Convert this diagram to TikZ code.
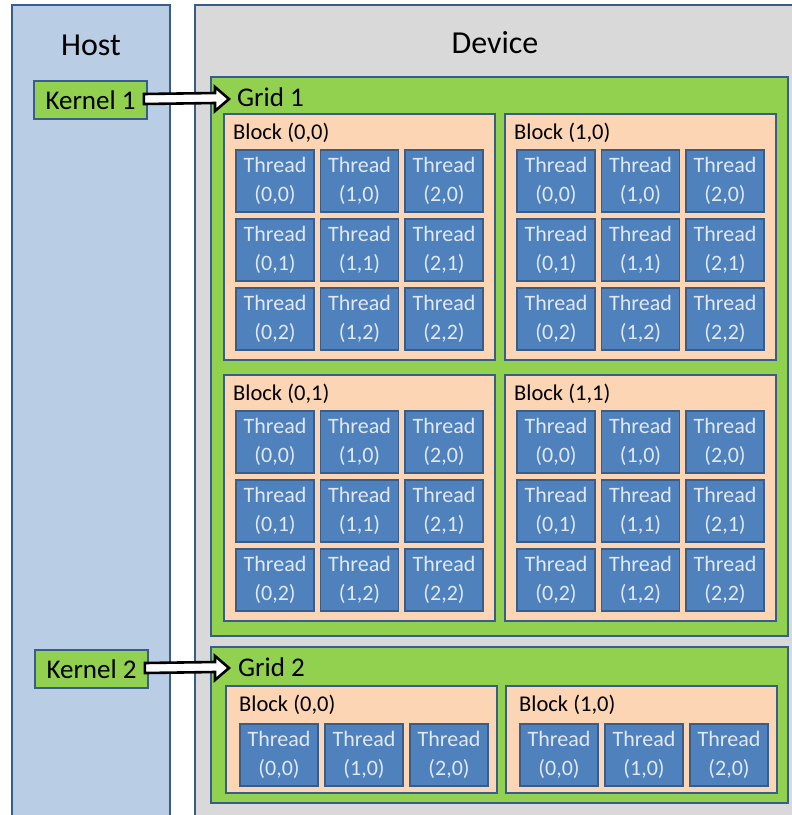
\documentclass[tikz,border=0pt]{standalone}
\usepackage{fontspec}
\setmainfont{Carlito}
\usetikzlibrary{calc,positioning}
\definecolor{hostblue}{RGB}{185,205,229}
\definecolor{edgeblue}{RGB}{56,93,138}
\definecolor{devgray}{RGB}{217,217,217}
\definecolor{gridgreen}{RGB}{146,208,80}
\definecolor{blockpeach}{RGB}{252,213,181}
\definecolor{threadblue}{RGB}{79,129,189}
\definecolor{threadtext}{RGB}{224,233,245}
\tikzstyle{panel} = [rectangle, draw=edgeblue, line width=1.8pt, anchor=north west, inner sep=0pt, outer sep=0pt]
\tikzstyle{hostpanel} = [panel, fill=hostblue, minimum width=158pt, minimum height=830pt]
\tikzstyle{devpanel} = [panel, fill=devgray, minimum width=620pt, minimum height=830pt]
\tikzstyle{gridbox} = [panel, fill=gridgreen, minimum width=577pt]
\tikzstyle{blockbox} = [panel, fill=blockpeach, minimum width=271pt]
\tikzstyle{thread} = [panel, fill=threadblue, minimum width=78pt, minimum height=62pt, align=center, text=threadtext, font=\fontsize{22}{29}\selectfont]
\tikzstyle{kernel} = [rectangle, draw=edgeblue, line width=1.8pt, fill=gridgreen, minimum width=113pt, minimum height=38pt, inner sep=0pt, font=\fontsize{27}{32}\selectfont]
\tikzstyle{title} = [font=\fontsize{32}{38}\selectfont]
\tikzstyle{label} = [anchor=base west, inner sep=0pt, font=\fontsize{27}{32}\selectfont]
\tikzstyle{blocklabel} = [anchor=base west, inner sep=0pt, font=\fontsize{22.5}{27}\selectfont]
\tikzstyle{hollow} = [draw=black, line width=2.6pt, fill=white, line join=miter]

\begin{document}
\begin{tikzpicture}[x=1pt, y=-1pt]
\clip (0,0) rectangle (792,815);
\fill[white] (0,0) rectangle (792,815);
% host and device
\node (host) [hostpanel] at (12,5) {};
\node (dev) [devpanel] at (195,5) {};
\node [title] at (91,45) {Host};
\node [title] at (495,43) {Device};
% grid 1
\node (g1) [gridbox, minimum height=559pt] at (211,77) {};
\node (g1lab) [label] at ($(g1.north west)+(26,29)$) {Grid 1};
\foreach \bx/\by/\px/\py in {0/0/224/114, 1/0/505/114, 0/1/224/375, 1/1/505/375} {
  \node (g1b\bx\by) [blockbox, minimum height=246pt] at (\px,\py) {};
  \node [blocklabel] at ($(g1b\bx\by.north west)+(9,25)$) {Block (\bx,\by)};
  \foreach \tx in {0,1,2}
    \foreach \ty in {0,1,2}
      \node (g1b\bx\by t\tx\ty) [thread] at ($(g1b\bx\by.north west)+(12+\tx*84.5,36+\ty*69)$) {Thread\\(\tx,\ty)};
}
% grid 2
\node (g2) [gridbox, minimum height=156pt] at (211,647) {};
\node (g2lab) [label] at ($(g2.north west)+(27,29)$) {Grid 2};
\foreach \bx/\px in {0/226, 1/506} {
  \node (g2b\bx) [blockbox, minimum height=107pt] at (\px,686) {};
  \node [blocklabel] at ($(g2b\bx.north west)+(13,25)$) {Block (\bx,0)};
  \foreach \tx in {0,1,2}
    \node (g2b\bx t\tx) [thread] at ($(g2b\bx.north west)+(14+\tx*85,38)$) {Thread\\(\tx,0)};
}
% kernels
\node (k1) [kernel] at (90.5,100) {Kernel 1};
\node (k2) [kernel] at (91.5,669) {Kernel 2};
\coordinate (tip1) at ($(k1.east -| g1lab.west)+(-8,-1)$);
\coordinate (tip2) at ($(k2.east -| g2lab.west)+(-9,-1)$);
\draw [hollow] ($(k1.east)+(-4,-6)$) -- ($(tip1)+(-14,-6)$) -- ($(tip1)+(-14,-12)$) -- (tip1)
  -- ($(tip1)+(-14,12)$) -- ($(tip1)+(-14,4)$) -- ($(k1.east)+(-4,4)$) -- cycle;
\draw [hollow] ($(k2.east)+(-4,-6)$) -- ($(tip2)+(-14,-6)$) -- ($(tip2)+(-14,-12)$) -- (tip2)
  -- ($(tip2)+(-14,12)$) -- ($(tip2)+(-14,4)$) -- ($(k2.east)+(-4,4)$) -- cycle;
\end{tikzpicture}
\end{document}
